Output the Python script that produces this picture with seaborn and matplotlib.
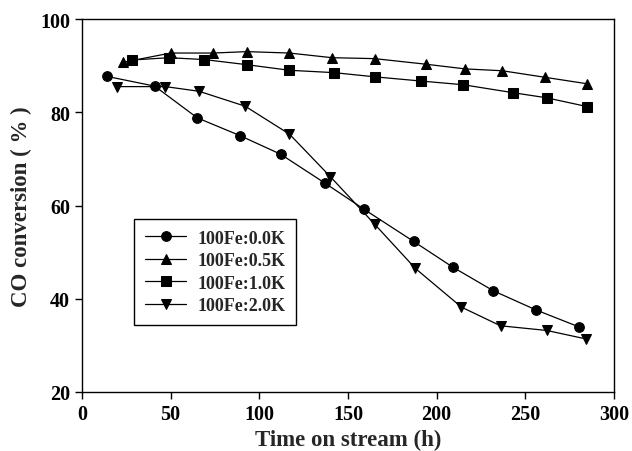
import pandas as pd
import numpy as np
import matplotlib.pyplot as plt
import seaborn as sns

t_00 = [14, 41, 65, 89, 112, 137, 159, 187, 209, 232, 256, 280]
co_00 = [87.7, 85.6, 78.8, 75.0, 71.0, 64.8, 59.2, 52.3, 46.8, 41.7, 37.6, 34.0]

t_05 = [23, 50, 74, 93, 117, 141, 165, 194, 216, 237, 261, 285]
co_05 = [90.7, 92.7, 92.7, 93.0, 92.7, 91.7, 91.5, 90.3, 89.3, 88.9, 87.5, 86.1]

t_10 = [28, 49, 69, 93, 117, 142, 165, 191, 215, 243, 262, 285]
co_10 = [91.2, 91.7, 91.3, 90.2, 89.0, 88.5, 87.6, 86.7, 85.9, 84.2, 83.1, 81.2]

t_20 = [20, 47, 66, 92, 117, 140, 165, 188, 214, 236, 262, 284]
co_20 = [85.5, 85.5, 84.5, 81.3, 75.3, 66.2, 56.0, 46.5, 38.2, 34.2, 33.2, 31.4]

labels = ['100Fe:0.0K', '100Fe:0.5K', '100Fe:1.0K', '100Fe:2.0K']
marker_list = ['o', '^', 's', 'v']

frames = []
for lab, t, co in zip(labels, [t_00, t_05, t_10, t_20], [co_00, co_05, co_10, co_20]):
    frames.append(pd.DataFrame({'time': t, 'co': co, 'Kind': lab}))
df = pd.concat(frames).reset_index(drop=True)

sns.set_style('ticks')
plt.rcParams['font.family'] = ['Liberation Serif', 'DejaVu Serif']
plt.rcParams['font.weight'] = 'bold'
plt.rcParams['axes.labelweight'] = 'bold'

fig = plt.figure(figsize=(6.32, 4.52), dpi=100)
ax = fig.add_axes([82 / 632, 59 / 452, 532 / 632, 373 / 452])

sns.lineplot(data=df, x='time', y='co', style='Kind', hue='Kind',
             palette=['black'] * 4, markers=dict(zip(labels, marker_list)),
             dashes=False, markersize=7, markeredgecolor='black',
             linewidth=0.9, sort=False, ax=ax)

ax.set_xlim(0, 300)
ax.set_ylim(20, 100)
ax.set_xticks(range(0, 301, 50))
ax.set_yticks(range(20, 101, 20))
ax.set_xlabel('Time on stream (h)', fontsize=16.5, fontweight='bold', labelpad=4)
ax.set_ylabel('CO conversion ( % )', fontsize=16.5, fontweight='bold', labelpad=6)
ax.tick_params(axis='both', direction='out', length=5, width=1, labelsize=14.5, colors='black')
for lab in ax.get_xticklabels() + ax.get_yticklabels():
    lab.set_fontweight('bold')
for sp in ax.spines.values():
    sp.set_visible(True)
    sp.set_linewidth(1)
    sp.set_color('black')

h, l = ax.get_legend_handles_labels()
leg = ax.legend(h, l, loc='lower left', bbox_to_anchor=(0.098, 0.18), borderaxespad=0,
                frameon=True, fancybox=False, edgecolor='black', framealpha=1,
                handlelength=2.3, handletextpad=0.6,
                prop={'weight': 'bold', 'size': 13}, borderpad=0.6, labelspacing=0.3)
leg.get_frame().set_linewidth(1)

plt.savefig('out.png', dpi=100)
